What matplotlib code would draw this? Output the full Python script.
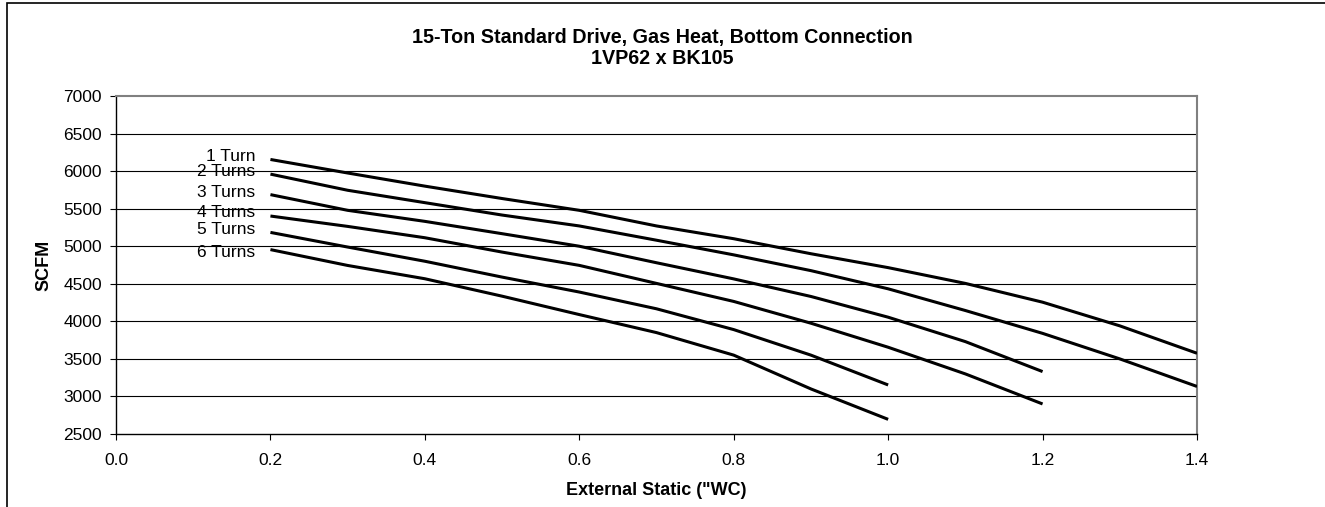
import matplotlib
matplotlib.use("Agg")
import matplotlib.pyplot as plt
from matplotlib.patches import Rectangle

plt.rcParams['font.family'] = ['Liberation Sans', 'DejaVu Sans']

# External static pressure ("WC) sample points
static_long = [0.2, 0.3, 0.4, 0.5, 0.6, 0.7, 0.8, 0.9, 1.0, 1.1, 1.2, 1.3, 1.4]
static_mid = [0.2, 0.3, 0.4, 0.5, 0.6, 0.7, 0.8, 0.9, 1.0, 1.1, 1.2]
static_short = [0.2, 0.3, 0.4, 0.5, 0.6, 0.7, 0.8, 0.9, 1.0]

# Airflow (SCFM) for each pulley setting
turns_1 = [6155, 5975, 5800, 5635, 5478, 5270, 5100, 4900, 4715, 4505, 4255, 3940, 3575]
turns_2 = [5960, 5745, 5580, 5415, 5270, 5080, 4885, 4675, 4433, 4144, 3840, 3500, 3133]
turns_3 = [5687, 5478, 5331, 5167, 5000, 4780, 4565, 4331, 4055, 3730, 3331]
turns_4 = [5402, 5264, 5113, 4922, 4745, 4505, 4265, 3975, 3655, 3300, 2900]
turns_5 = [5184, 4989, 4800, 4589, 4390, 4167, 3890, 3550, 3153]
turns_6 = [4955, 4744, 4567, 4335, 4090, 3850, 3550, 3100, 2695]

series_labels = ["1 Turn", "2 Turns", "3 Turns", "4 Turns", "5 Turns", "6 Turns"]
series = [
    (static_long, turns_1),
    (static_long, turns_2),
    (static_mid, turns_3),
    (static_mid, turns_4),
    (static_short, turns_5),
    (static_short, turns_6),
]
label_dy = [3, 3, 2, 4, 3, -3]

x_ticks = [0.0, 0.2, 0.4, 0.6, 0.8, 1.0, 1.2, 1.4]
y_ticks = [2500, 3000, 3500, 4000, 4500, 5000, 5500, 6000, 6500, 7000]

fig = plt.figure(figsize=(13.25, 5.07), dpi=100)
ax = fig.add_axes([116 / 1325, 1 - 434 / 507, (1197 - 116) / 1325, (434 - 96) / 507])

for y in y_ticks[1:-1]:
    ax.axhline(y, color='black', linewidth=0.8, zorder=1)

for (xs, ys), lab, dy in zip(series, series_labels, label_dy):
    ax.plot(xs, ys, color='black', linewidth=2.2, solid_capstyle='butt',
            solid_joinstyle='round', zorder=3)
    ax.annotate(lab, xy=(xs[0], ys[0]), xytext=(-15, dy), textcoords='offset pixels',
                ha='right', va='center', fontsize=12.5)

ax.set_xlim(0.0, 1.4)
ax.set_ylim(2500, 7000)
ax.set_xticks(x_ticks)
ax.set_xticklabels([f"{v:.1f}" for v in x_ticks])
ax.set_yticks(y_ticks)
ax.set_yticklabels([str(v) for v in y_ticks])
ax.tick_params(axis='both', direction='out', length=4, width=0.8, labelsize=12.5,
               color='black')
ax.tick_params(axis='x', pad=10)
ax.tick_params(axis='y', pad=6)

for side in ('left', 'bottom'):
    ax.spines[side].set_color('black')
    ax.spines[side].set_linewidth(1.0)
for side in ('top', 'right'):
    ax.spines[side].set_color('#808080')
    ax.spines[side].set_linewidth(1.5)

ax.set_xlabel('External Static ("WC)', fontsize=13, fontweight='bold', labelpad=10)
ax.set_ylabel('SCFM', fontsize=13, fontweight='bold', labelpad=8)

fig.text(0.5, 1 - 37 / 507, "15-Ton Standard Drive, Gas Heat, Bottom Connection",
         ha='center', va='center', fontsize=14.2, fontweight='bold')
fig.text(0.5, 1 - 59 / 507, "1VP62 x BK105",
         ha='center', va='center', fontsize=14.2, fontweight='bold')

# chart-area border running off the right and bottom edges
fig.patches.append(Rectangle((7 / 1325, -0.5), 2.0, 1.5 - 3 / 507,
                             transform=fig.transFigure, fill=False,
                             edgecolor='black', linewidth=1.2, clip_on=False))

fig.savefig("out.png", dpi=100)
